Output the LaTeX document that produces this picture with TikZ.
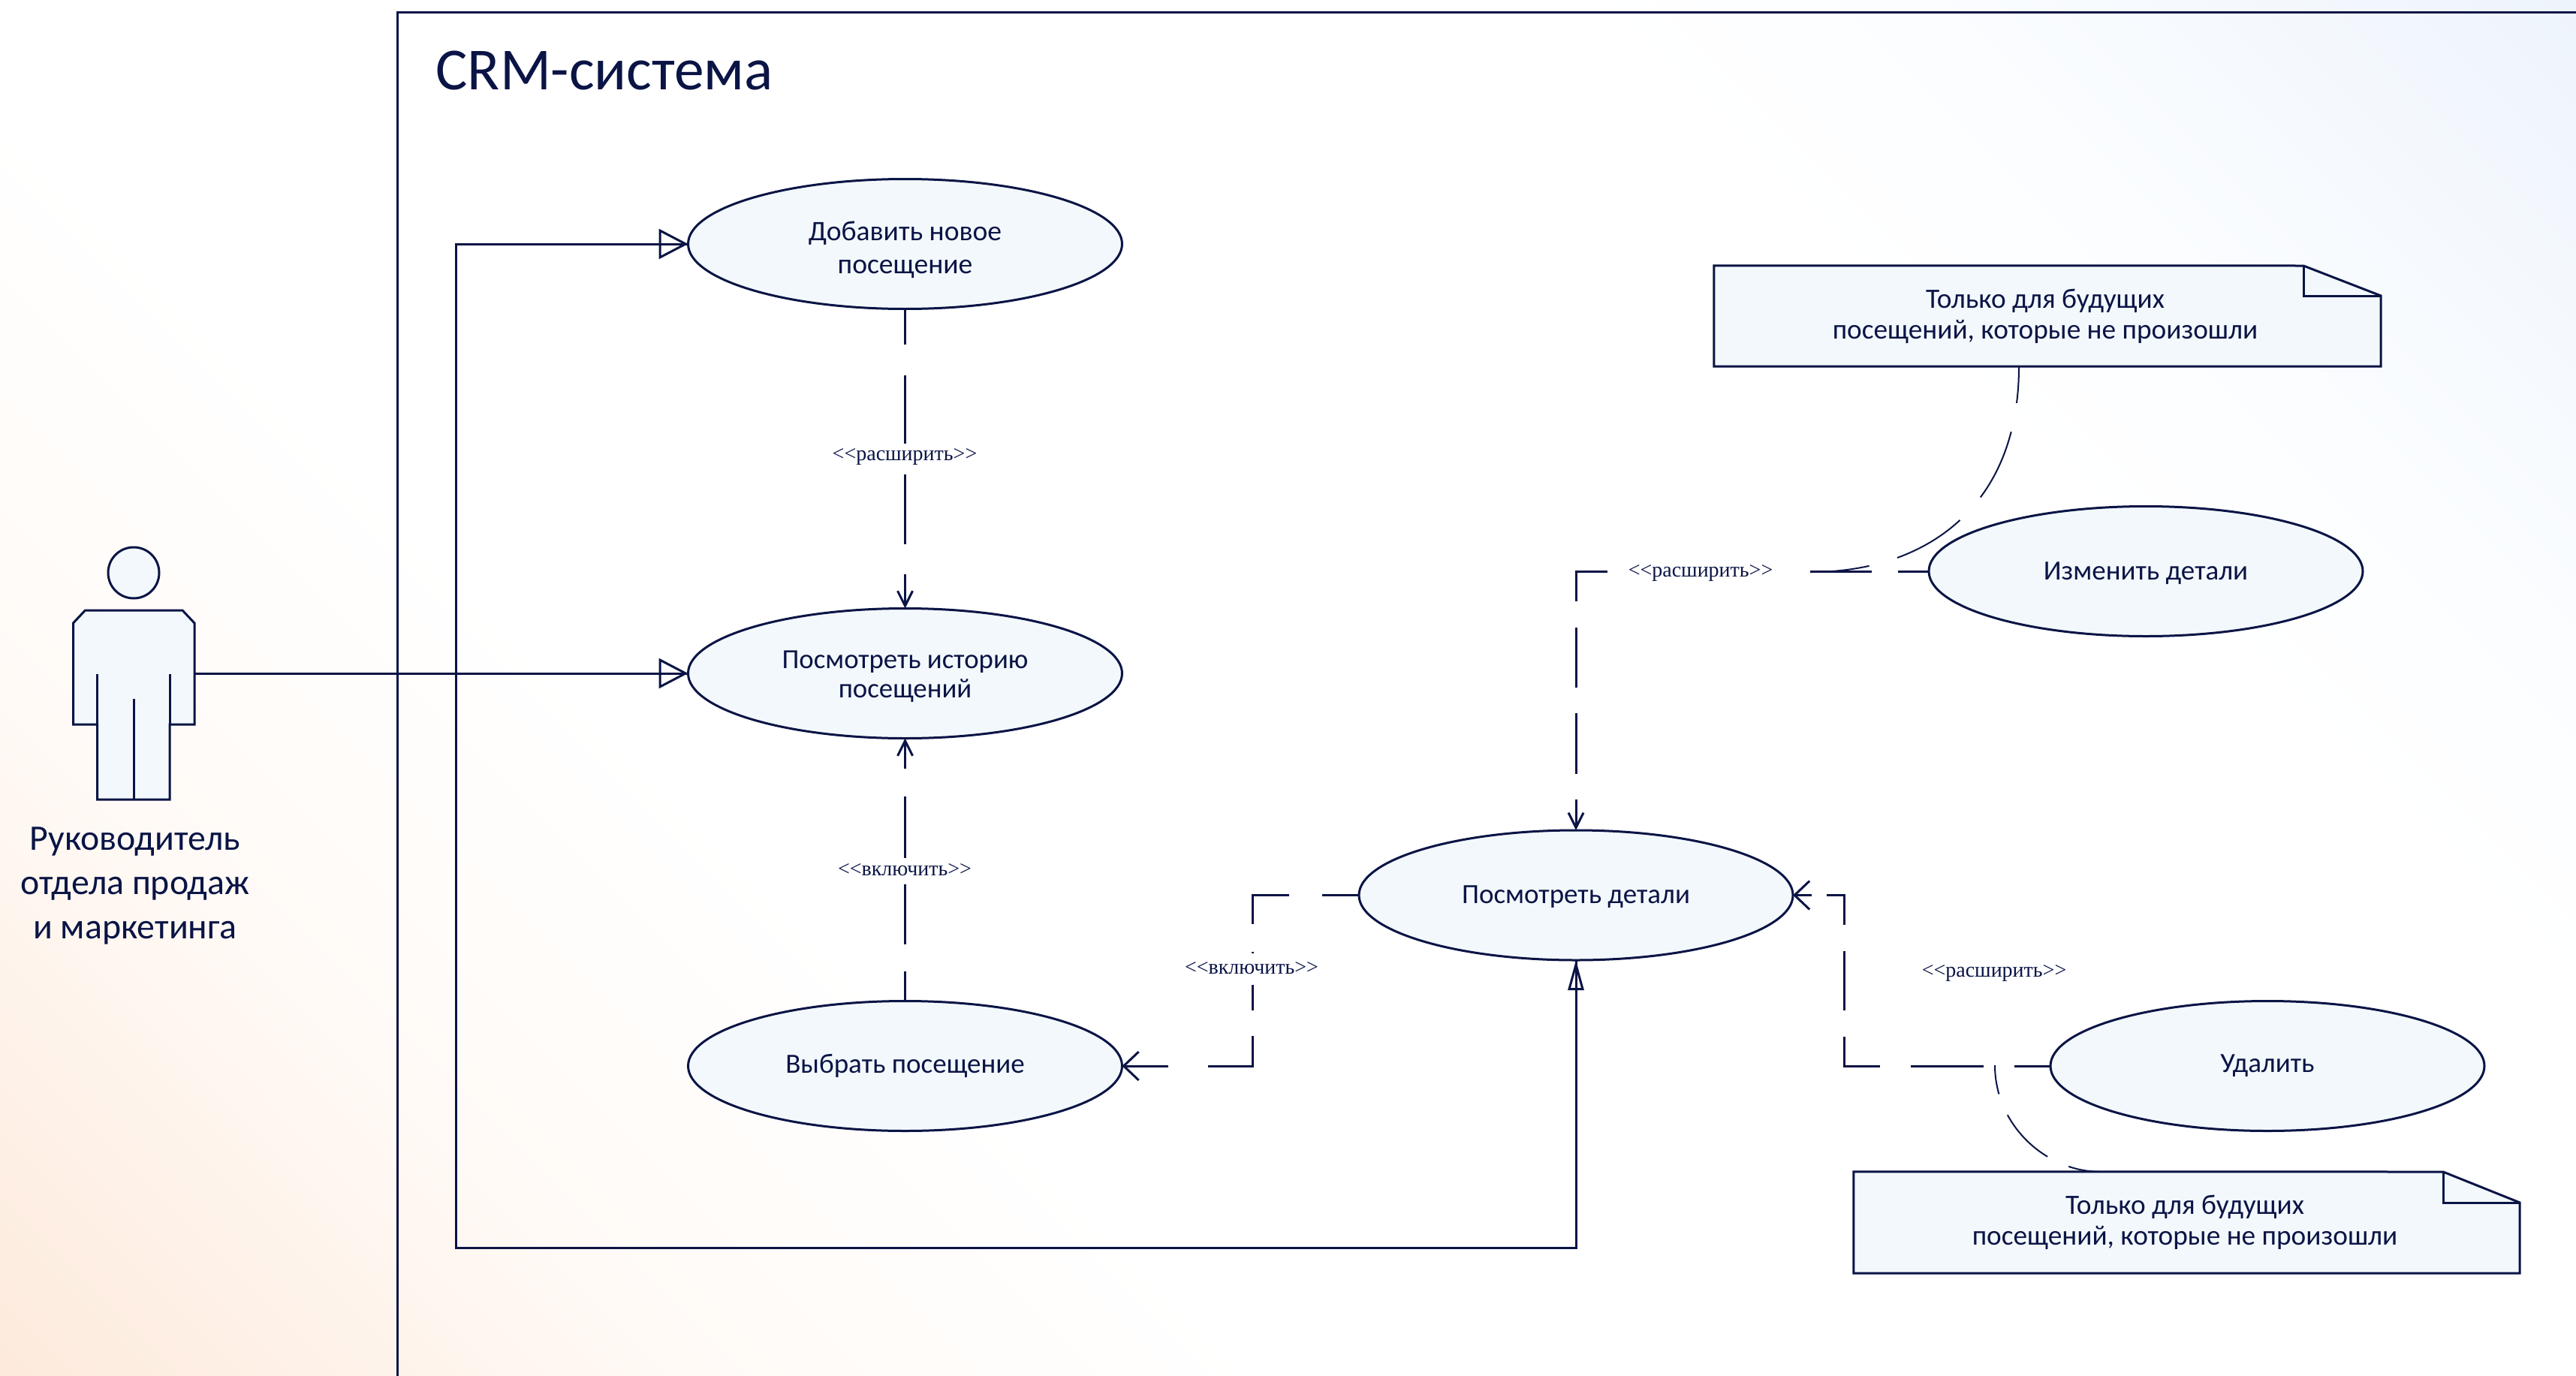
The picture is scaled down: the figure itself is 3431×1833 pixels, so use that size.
\documentclass[tikz,border=0pt]{standalone}
\usepackage{fontspec}
\setmainfont{Carlito}
\newfontfamily\lblfont{Liberation Serif}
\usetikzlibrary{shapes.geometric,arrows.meta}
\definecolor{ink}{HTML}{0A1445}
\definecolor{pale}{HTML}{F3F8FC}
\definecolor{bgo}{HTML}{FDEADC}
\definecolor{bgm}{HTML}{FFFAF6}
\definecolor{bgn}{HTML}{FBFDFF}
\definecolor{bgb}{HTML}{EEF4FC}
\pgfdeclarehorizontalshading{pagebg}{100bp}{color(0bp)=(bgo); color(14.6bp)=(bgo); color(24bp)=(bgm); color(32bp)=(white); color(55bp)=(white); color(60bp)=(bgn); color(69bp)=(bgb); color(100bp)=(bgb)}
\newcommand{\ltlt}{<\kern0pt <}
\newcommand{\gtgt}{>\kern0pt >}
\tikzset{
  usecase/.style={draw=ink,fill=pale,line width=3pt,ellipse,inner sep=0pt,outer sep=0pt,minimum width=578pt,minimum height=173pt,text=ink,align=center,font=\fontsize{37}{42}\selectfont},
  notebox/.style={inner sep=0pt,text=ink,align=center,font=\fontsize{37.3}{41}\selectfont},
  stereo/.style={text=ink,inner sep=0pt,font=\lblfont\fontsize{28}{30}\selectfont},
  rel/.style={draw=ink,line width=3pt},
  notelink/.style={draw=ink,line width=2pt},
  gen/.style={rel,-{Triangle[open,length=39pt,width=40pt]},postaction={draw=ink,line width=3pt,arrows=-}},
  genv/.style={rel,-{Triangle[open,length=40pt,width=21pt]},postaction={draw=ink,line width=3pt,arrows=-}},
  barbv/.style={rel,-{Straight Barb[length=20pt,width=20pt]}},
  barbh/.style={rel,-{Straight Barb[length=20pt,width=38pt]}},
  shapeline/.style={draw=ink,fill=pale,line width=3pt,line join=miter}
}
\begin{document}
\begin{tikzpicture}[x=1pt,y=-1pt]
\useasboundingbox (0,0) rectangle (3431,1833);
\begin{scope}
\clip (0,0) rectangle (3431,1833);
\shade[shading=pagebg,shading angle=45] (0,1833) rectangle (3431,-1598);
\end{scope}
% system frame
\draw[rel] (529.5,1840) -- (529.5,16.5) -- (3440,16.5);
\node[anchor=center,text=ink,inner sep=0pt,font=\fontsize{79.5}{80}\selectfont] (title) at (805,94) {CRM-система};
% use cases
\node[usecase,font=\fontsize{37.6}{44}\selectfont] (add) at (1205.5,325) {\rule{0pt}{41pt}Добавить новое\\посещение};
\node[usecase,font=\fontsize{36.8}{39}\selectfont] (hist) at (1205.5,897) {\rule{0pt}{33pt}Посмотреть историю\\посещений};
\node[usecase] (pick) at (1205.5,1420) {Выбрать посещение};
\node[usecase] (det) at (2099,1192.5) {\rule{0pt}{29pt}Посмотреть детали};
\node[usecase] (edit) at (2858,761) {\rule{0pt}{29pt}Изменить детали};
\node[usecase] (del) at (3020,1420) {Удалить};
% notes
\node[notebox,minimum width=888pt,minimum height=134pt] (n1) at (2727,421) {};
\node[notebox,minimum width=887pt,minimum height=135pt] (n2) at (2912.5,1628.5) {};
\path[shapeline] (n1.north west) -- (3068,354) -- (n1.north east |- 0,394) -- (n1.south east) -- (n1.south west) -- cycle;
\path[shapeline] (n2.north west) -- (3254,1561) -- (n2.north east |- 0,1602) -- (n2.south east) -- (n2.south west) -- cycle;
\draw[shapeline,fill=none] (3068,354) -- (3068,394) -- (n1.north east |- 0,394);
\draw[shapeline,fill=none] (3254,1561) -- (3254,1602) -- (n2.north east |- 0,1602);
\node[notebox] (n1t) at (2724,421.5) {Только для будущих\\посещений, которые не произошли};
\node[notebox] (n2t) at (2910,1628) {Только для будущих\\посещений, которые не произошли};
% actor
\node[draw=ink,fill=pale,line width=3pt,ellipse,inner sep=0pt,minimum width=68pt,minimum height=68pt] (head) at (178,763) {};
\draw[shapeline] (113.5,813) -- (243,813) -- (259,830) -- (259,965) -- (226,965) -- (226,1065) -- (129.5,1065) -- (129.5,965) -- (97.5,965) -- (97.5,830) -- cycle;
\draw[rel] (129.5,897.5) -- (129.5,965) (226,897.5) -- (226,965) (178,931) -- (178,1065);
\coordinate (actor) at (259,897);
\node[text=ink,inner sep=0pt,align=center,font=\fontsize{47.8}{59}\selectfont] (actorlabel) at (180,1180) {Руководитель\\отдела продаж\\и маркетинга};
% generalisation
\draw[gen] (actor) -- (hist.west);
\draw[gen] (actor) -- (607,897) -- (607,325) -- (add.west);
\draw[genv] (actor) -- (607,897) -- (607,1662) -- (2099,1662) -- (det.south);
% extend / include
\draw[barbv,dash pattern=on 47pt off 41pt on 91pt off 41pt on 93pt off 40pt on 60pt off 9pt] (add.south) -- (hist.north);
\draw[barbv,dash pattern=on 40pt off 36pt on 80pt off 35pt on 82pt off 37pt on 50pt off 9pt] (pick.north) -- (hist.south);
\coordinate (c3) at (2099,761);
\draw[barbv,dash pattern=on 41pt off 35pt on 82pt off 270pt on 82pt off 35pt on 80pt off 34pt on 81pt off 34pt on 60pt off 9pt] (edit.west) -- (c3) -- (det.north);
\coordinate (c4a) at (1668,1192.5);
\coordinate (c4b) at (1668,1420);
\draw[barbh,dash pattern=on 49pt off 44pt on 87pt off 37pt on 2pt off 42pt on 34pt off 34pt on 100pt off 53pt on 60pt off 9pt] (det.west) -- (c4a) -- (c4b) -- (pick.east);
\coordinate (c5a) at (2456,1420);
\coordinate (c5b) at (2456,1192.5);
\draw[barbh,dash pattern=on 48pt off 41pt on 97pt off 41pt on 87pt off 35pt on 79pt off 35pt on 63pt off 20pt on 24pt off 9pt] (del.west) -- (c5a) -- (c5b) -- (det.east);
% stereotype labels
\node[stereo] (s1) at (1205,608) {\ltlt расширить\gtgt};
\node[stereo] (s2) at (1205,1159) {\ltlt включить\gtgt};
\node[stereo] (s3) at (2265,763) {\ltlt расширить\gtgt};
\node[stereo] (s4) at (1667,1290) {\ltlt включить\gtgt};
\node[stereo] (s5) at (2656,1296) {\ltlt расширить\gtgt};
% note links
\coordinate (n1a) at (2689,488);
\coordinate (n1b) at (2412,762);
\draw[notelink,dash pattern=on 49pt off 39pt on 97pt off 41pt on 98pt off 39pt on 90pt off 9pt] (n1a) .. controls (2689,678) and (2562,762) .. (n1b);
\coordinate (n2a) at (2657,1419);
\coordinate (n2b) at (2798,1561);
\draw[notelink,dash pattern=on 39pt off 30pt on 78pt off 31pt on 45pt off 9pt] (n2a) .. controls (2657,1499) and (2725,1561) .. (n2b);
\end{tikzpicture}
\end{document}
